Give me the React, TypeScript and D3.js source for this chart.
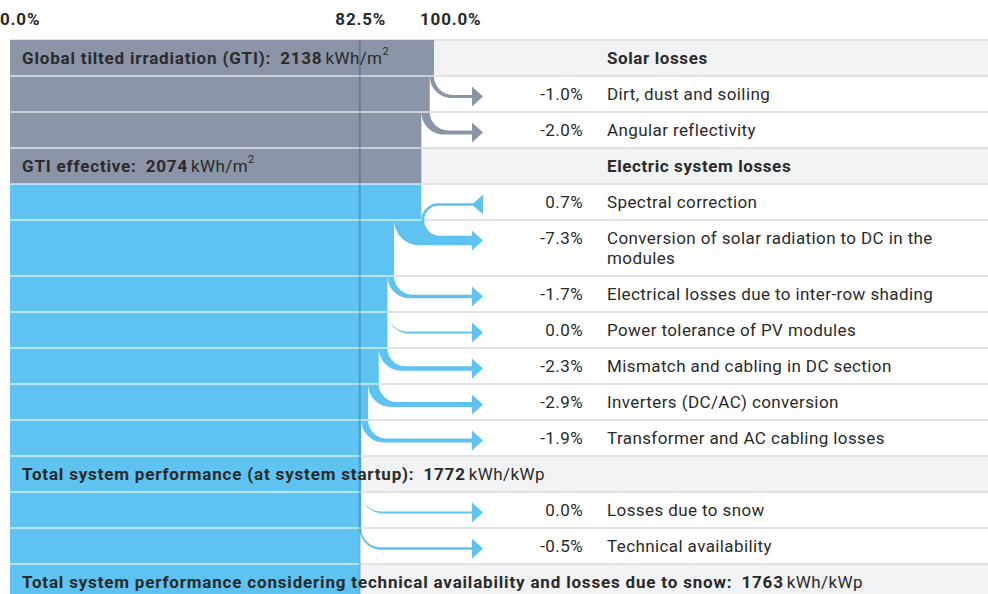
import React from 'react';
import * as d3 from 'd3';

// ---- data ----
const rowLabels = [
  'Global tilted irradiation (GTI):',
  'Dirt, dust and soiling',
  'Angular reflectivity',
  'GTI effective:',
  'Spectral correction',
  'Conversion of solar radiation to DC in the\nmodules',
  'Electrical losses due to inter-row shading',
  'Power tolerance of PV modules',
  'Mismatch and cabling in DC section',
  'Inverters (DC/AC) conversion',
  'Transformer and AC cabling losses',
  'Total system performance (at system startup):',
  'Losses due to snow',
  'Technical availability',
  'Total system performance considering technical availability and losses due to snow:',
];
// null = total / summary row
const rowChanges: (number | null)[] = [null, -1.0, -2.0, null, 0.7, -7.3, -1.7, 0.0, -2.3, -2.9, -1.9, null, 0.0, -0.5, null];
const totalValues = [2138, 2074, 1772, 1763];
const totalUnits = ['kWh/m', 'kWh/m', 'kWh/kWp', 'kWh/kWp'];
const totalUnitSup = ['2', '2', '', ''];
const sectionTitles = ['Solar losses', 'Electric system losses', '', ''];
const irradiationRows = 4; // first rows drawn in grey (irradiation part)
const axisTicks = [0, 82.5, 100];

// ---- styles ----
const W = 988;
const H = 594;
const GREY = '#8c95a8';
const BLUE = '#5ec3f0';
const HEADER_BG = '#f1f2f4';
const SEP = '#e0e2e5';
const TEXT = '#2a2a2a';
const FONT = 'Roboto, "Noto Sans", sans-serif';
const FS = 17;
const LS_REG = 0.4;
const LS_BOLD = 0.82;

export default function App() {
  const x = d3.scaleLinear().domain([0, 100]).range([10, 434]);
  const f1 = d3.format('.1f');
  const fmt = (v: number) => f1(v).replace('\u2212', '-');

  // layout rows
  const top0 = 40;
  const lineH = 20;
  const baseH = 36;
  let y = top0;
  let val = 100;
  let totalIdx = 0;
  const rows = rowLabels.map((label, i) => {
    const lines = label.split('\n');
    const h = baseH + (lines.length - 1) * lineH;
    const chg = rowChanges[i];
    const before = val;
    let after = val;
    if (chg !== null) after = before * (1 + chg / 100);
    val = after;
    const isTotal = chg === null;
    const tIdx = isTotal ? totalIdx++ : -1;
    const bar = chg !== null && chg > 0 ? before : after;
    const r = { i, label, lines, top: y, h, chg, before, after, bar, isTotal, tIdx, color: i < irradiationRows ? GREY : BLUE };
    y += h;
    return r;
  });

  const arrowBase = 472;
  const arrowTip = 483;
  const k = 0.5523;

  const ribbon = (r: any) => {
    if (r.isTotal) return null;
    const yc = r.top + 20.5;
    const t = 2 + Math.abs(r.chg) * 1.0;
    if (r.chg > 0) {
      const bottom = r.top + r.h;
      const xa = x(r.before);
      const xb = x(r.after);
      const yTop = yc - t / 2;
      const yBot = yc + t / 2;
      const R1 = bottom - yTop;
      const R2 = bottom - yBot;
      const d = `M${xa},${bottom} C${xa},${bottom - k * R1} ${xa + R1 - k * R1},${yTop} ${xa + R1},${yTop} L${arrowBase + 2},${yTop} L${arrowBase + 2},${yBot} L${xb + R2},${yBot} C${xb + R2 - k * R2},${yBot} ${xb},${bottom - k * R2} ${xb},${bottom} Z`;
      const head = `M${arrowTip},${yc - 10} L${arrowBase},${yc} L${arrowTip},${yc + 10} Z`;
      return (
        <g key={'rb' + r.i} fill={r.color}>
          <path d={d} />
          <path d={head} />
        </g>
      );
    }
    const top = r.top;
    const xa = x(r.after);
    const xb = x(r.before);
    const yb = yc + t / 2;
    const yt = yc - t / 2;
    const R1 = yb - top;
    const R2 = yt - top;
    const d = `M${xa},${top} C${xa},${top + k * R1} ${xa + R1 - k * R1},${yb} ${xa + R1},${yb} L${arrowBase},${yb} L${arrowBase},${yt} L${xb + R2},${yt} C${xb + R2 - k * R2},${yt} ${xb},${top + k * R2} ${xb},${top} Z`;
    const head = `M${arrowBase},${yc - 10} L${arrowTip},${yc} L${arrowBase},${yc + 10} Z`;
    return (
      <g key={'rb' + r.i} fill={r.color}>
        <path d={d} />
        <path d={head} />
      </g>
    );
  };

  // separators at boundaries between rows
  const boundaries = rows.map((r, i) => {
    const prevBar = i > 0 ? x(rows[i - 1].bar) : x(0);
    const curBar = x(r.bar);
    return { y: r.top, xEnd: Math.max(prevBar, curBar) };
  });

  return (
    <svg
      width={W}
      height={H}
      style={{ position: 'absolute', left: 0, top: 0, background: '#fff' }}
      fontFamily={FONT}
    >
      {/* header backgrounds */}
      {rows.filter((r) => r.isTotal).map((r) => (
        <rect key={'hb' + r.i} x={x(0)} y={r.top} width={W - x(0)} height={r.h} fill={HEADER_BG} />
      ))}
      {/* separator lines */}
      {boundaries.map((b, i) => (
        <line key={'sp' + i} x1={x(0)} x2={W} y1={b.y} y2={b.y} stroke={SEP} strokeWidth={2} />
      ))}
      {/* bars */}
      {rows.map((r) => (
        <rect key={'bar' + r.i} x={x(0)} y={r.top} width={x(r.bar) - x(0)} height={r.h} fill={r.color} />
      ))}
      {/* ribbons */}
      {rows.map((r) => ribbon(r))}
      {/* lighter separators over bars */}
      {boundaries.slice(1).map((b, i) => (
        <line key={'spw' + i} x1={x(0)} x2={b.xEnd} y1={b.y} y2={b.y} stroke="#ffffff" strokeOpacity={0.55} strokeWidth={2} />
      ))}
      {/* reference line at final value */}
      <line x1={x(82.5)} x2={x(82.5)} y1={top0} y2={H} stroke="#1e3c6e" strokeOpacity={0.28} strokeWidth={2} />

      {/* axis labels */}
      {axisTicks.map((t, i) => {
        const last = i === axisTicks.length - 1;
        const first = i === 0;
        const anchor = first || last ? 'start' : 'middle';
        const px = first ? x(t) - 10 : last ? x(t) - 14 : x(t) + 1;
        return (
          <text key={'ax' + i} x={px} y={19} textAnchor={anchor} dominantBaseline="central" fontSize={FS} letterSpacing={LS_BOLD} fontWeight={700} fill={TEXT}>
            {fmt(t) + '%'}
          </text>
        );
      })}

      {/* row texts */}
      {rows.map((r) => {
        const cy = r.top + 18;
        if (r.isTotal) {
          const sup = totalUnitSup[r.tIdx];
          return (
            <g key={'tx' + r.i}>
              <text x={22} y={cy} dominantBaseline="central" fontSize={FS} fill={TEXT}>
                <tspan fontWeight={700} letterSpacing={LS_BOLD}>{r.label}</tspan>
                <tspan dx={9} fontWeight={700} letterSpacing={LS_BOLD}>{String(totalValues[r.tIdx])}</tspan>
                <tspan dx={3} fontWeight={400} letterSpacing={LS_REG}>{totalUnits[r.tIdx]}</tspan>
                {sup ? (
                  <tspan fontSize={11} dy={-7}>{sup}</tspan>
                ) : null}
              </text>
              {sectionTitles[r.tIdx] ? (
                <text x={607} y={cy} dominantBaseline="central" fontSize={FS} letterSpacing={0.6} fontWeight={700} fill={TEXT}>
                  {sectionTitles[r.tIdx]}
                </text>
              ) : null}
            </g>
          );
        }
        return (
          <g key={'tx' + r.i}>
            <text x={583} y={cy} textAnchor="end" dominantBaseline="central" fontSize={FS} letterSpacing={LS_REG} fill={TEXT}>
              {fmt(r.chg as number) + '%'}
            </text>
            {r.lines.map((ln: string, j: number) => (
              <text key={j} x={607} y={cy + j * lineH} dominantBaseline="central" fontSize={FS} letterSpacing={LS_REG} fill={TEXT}>
                {ln}
              </text>
            ))}
          </g>
        );
      })}
    </svg>
  );
}
